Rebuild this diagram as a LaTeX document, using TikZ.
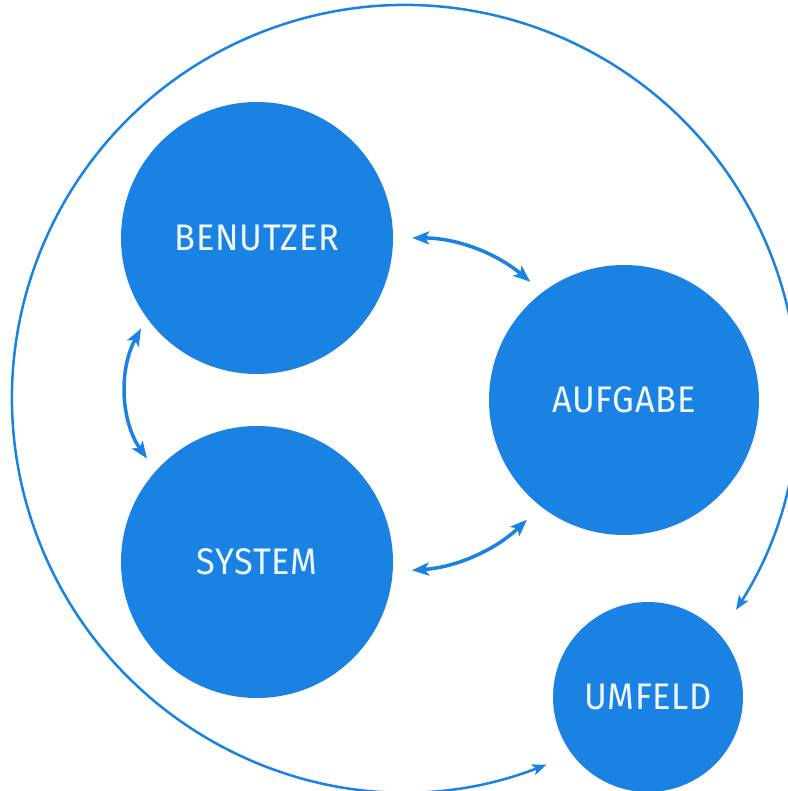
\documentclass[tikz,border=0pt]{standalone}
\usepackage{fontspec}
\newfontfamily\labelfont{Fira Sans}[FakeStretch=0.93, LetterSpace=2]
\usetikzlibrary{arrows.meta}
\definecolor{blu}{HTML}{1A82E2}
\begin{document}
\begin{tikzpicture}[x=1pt,y=-1pt,
  ball/.style={circle, fill=blu, minimum size=#1, inner sep=0pt,
    text=white!94!blu, font=\labelfont\fontsize{37}{37}\selectfont},
  link/.style={draw=blu, line width=3.5pt, {Stealth[length=17pt,width=13pt,inset=4pt]}-{Stealth[length=17pt,width=13pt,inset=4pt]}},
  loop/.style={draw=blu, line width=2.5pt, {Stealth[length=14pt,width=11pt,inset=3pt]}-{Stealth[length=14pt,width=11pt,inset=3pt]}}]
\useasboundingbox (0,0) rectangle (787,791);

% the four circles
\node[ball=272pt] (ben) at (257,238) {BENUTZER};
\node[ball=272pt] (sys) at (257,562) {SYSTEM};
\node[ball=270pt] (auf) at (624,400) {AUFGABE};
\node[ball=190pt] (umf) at (648,697) {UMFELD};

% two-way links between the inner circles
\draw[link, shorten <=19pt, shorten >=16pt] (ben.0) to[bend left=20] (auf.127);
\draw[link, shorten <=19pt, shorten >=19pt] (sys.-4) to[bend right=20] (auf.232);
\draw[link, shorten <=12pt, shorten >=15pt] (ben.216) to[bend right=32] (sys.138);

% outer loop around everything, both ends pointing at UMFELD
\coordinate (hub) at (405,398);
\draw[loop] (hub) ++(68.9:393) arc[start angle=68.9, end angle=392.6, radius=393];
\end{tikzpicture}
\end{document}
